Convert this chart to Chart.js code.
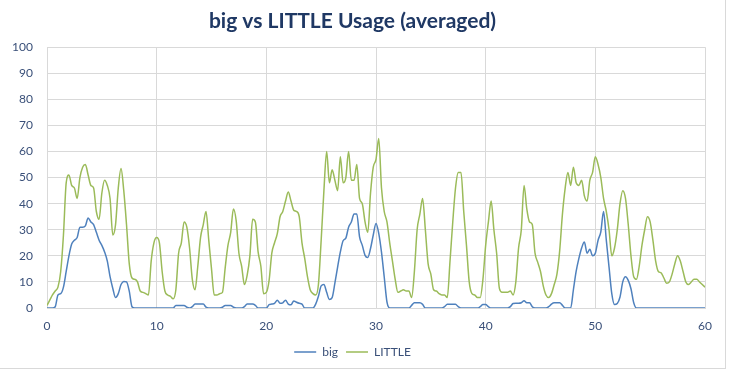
<!DOCTYPE html>
<html>
<head>
<meta charset="utf-8">
<title>big vs LITTLE Usage</title>
<script src="https://cdn.jsdelivr.net/npm/chart.js@4.4.1/dist/chart.umd.min.js"></script>
<style>
  html, body { margin: 0; padding: 0; background: #fff; }
  #wrap { position: relative; width: 735px; height: 376px; overflow: hidden; }
  #frame { position: absolute; left: -2px; top: -2px; width: 728px; height: 371px;
           border-right: 1px solid #d9d9d9; border-bottom: 1px solid #d9d9d9; box-sizing: border-box; }
  canvas { position: absolute; left: 0; top: 0; }
</style>
</head>
<body>
<div id="wrap">
  <div id="frame"></div>
  <canvas id="usage" width="735" height="376"></canvas>
</div>
<script>
// samples every 0.25 on the x axis, starting at 0
const sampleStep = 0.25;

const seriesNames = ['big', 'LITTLE'];

const bigUsage = [
  0, 0, 0, 0.5, 5, 5.5, 8, 14, 20, 24.5, 26, 27, 31, 31, 31.5, 34.5, 33, 32, 29, 26,
  24, 21.5, 18, 12, 7.5, 4, 5.5, 9, 10.2, 10, 6.5, 0.5, 0, 0, 0, 0, 0, 0, 0, 0,
  0, 0, 0, 0, 0, 0, 0, 1, 1, 1, 1, 0.3, 0, 0.5, 1.5, 1.5, 1.5, 1.5, 0.3, 0,
  0, 0, 0, 0, 0.3, 1, 1, 1, 0.3, 0, 0, 0, 0.5, 1.5, 1.5, 1.5, 1, 0, 0, 0,
  0, 1.3, 1.5, 1.8, 3, 1.8, 2, 3, 1.5, 1.2, 2.7, 2.2, 1.8, 1.5, 0, 0, 0, 0, 1.5, 4.5,
  8.5, 9, 6, 3.3, 4, 9.5, 15.7, 21.5, 25.8, 26.8, 31, 33, 36, 36, 27.3, 24, 20.2, 19.4, 22.8, 28,
  32.4, 28.6, 21.4, 11.9, 2.3, 0, 0, 0, 0, 0, 0, 0, 0, 1, 2, 2, 2, 1.4, 0, 0,
  0, 0, 0, 0, 0, 0.5, 1.4, 1.4, 1.4, 1.4, 0.5, 0, 0, 0, 0, 0, 0, 0, 0.5, 1.3,
  1.3, 0.5, 0, 0, 0, 0, 0, 0, 0, 0.5, 1.7, 1.8, 1.8, 2, 2.8, 2, 2, 0.5, 0, 0,
  0, 0, 0, 0.5, 1.5, 2, 2, 2, 1, 0, 0, 0, 7, 14, 19, 23, 25.3, 21, 22.5, 20,
  21, 26, 29.2, 37, 26, 15.7, 5.5, 1.3, 1.7, 4.2, 10, 12, 10.6, 7.4, 2, 0, 0, 0, 0, 0,
  0, 0, 0, 0, 0, 0, 0, 0, 0, 0, 0, 0, 0, 0, 0, 0, 0, 0, 0, 0,
  0
];

const littleUsage = [
  1, 3, 5, 6.5, 8, 14, 28, 48, 51, 47, 46, 42, 50, 54, 55, 51, 47, 46, 37, 34,
  44, 49, 47, 42, 28, 32, 46, 53.5, 45, 32, 17, 11.5, 11, 10, 6.5, 6, 5.5, 5, 18, 25,
  27, 25, 14, 6.5, 5, 4.5, 3.5, 7, 21, 25, 33, 31, 23, 11, 7, 16, 27, 32, 37, 26,
  15, 5, 5, 5.5, 6, 15.5, 24, 29, 38, 33.5, 21, 16, 9, 12.5, 20, 34, 33, 21.5, 16, 5.5,
  6, 10.5, 21, 25, 28.5, 35, 37, 41, 44.5, 41, 37.5, 37, 35, 25, 19, 12, 7, 5.5, 5, 9,
  26, 45, 60, 48, 53, 49, 45, 58, 48, 50, 60, 49, 49, 55, 42, 40, 33, 29, 44, 54,
  57, 65, 46, 37, 33, 25, 18, 11, 6, 6.5, 7, 6.5, 6.5, 4, 14, 30, 36, 42, 30, 17,
  13, 7, 6.5, 5.5, 5, 5, 4, 18, 33, 46, 52, 52, 37, 24, 10, 5.5, 5, 4, 4, 11,
  24, 33, 41, 30, 21, 7.5, 6, 6, 6, 6.5, 5, 10, 23, 30, 47, 38, 33, 32, 21, 17.5,
  14, 8.5, 5, 4, 5.5, 9, 13, 22, 36, 46, 52, 47, 54, 48, 47, 49, 43, 41, 49, 52,
  58, 55, 50, 42, 37, 30, 20, 23, 30, 40, 45, 42, 32, 20, 12, 11, 16, 24, 30, 35,
  33, 26, 18, 14, 13.5, 11.5, 9.5, 10, 13, 17, 20, 18, 14, 10, 9, 10, 11, 11, 10, 9,
  8
];

const xTickLabels = [0, 10, 20, 30, 40, 50, 60];
const yTickLabels = [0, 10, 20, 30, 40, 50, 60, 70, 80, 90, 100];

const toPoints = (vals) => vals.map((v, i) => ({ x: i * sampleStep, y: v }));

const textColor = '#3a5079';
const gridColor = '#d9d9d9';

new Chart(document.getElementById('usage'), {
  type: 'line',
  data: {
    datasets: [
      {
        label: seriesNames[0],
        data: toPoints(bigUsage),
        borderColor: '#4f81bd',
        borderWidth: 1.5,
        pointRadius: 0,
        cubicInterpolationMode: 'monotone'
      },
      {
        label: seriesNames[1],
        data: toPoints(littleUsage),
        borderColor: '#9bbb59',
        borderWidth: 1.5,
        pointRadius: 0,
        cubicInterpolationMode: 'monotone'
      }
    ]
  },
  options: {
    responsive: false,
    animation: false,
    devicePixelRatio: 1,
    layout: { padding: { left: 0, right: 30, top: 0, bottom: 8 } },
    plugins: {
      title: {
        display: true,
        text: 'big vs LITTLE Usage (averaged)',
        color: '#1f3864',
        font: { family: 'Lato', size: 21, weight: 'bold' },
        padding: { top: 9, bottom: 13 }
      },
      legend: {
        position: 'bottom',
        labels: {
          usePointStyle: true,
          pointStyle: 'line',
          pointStyleWidth: 22,
          color: textColor,
          font: { family: 'Lato', size: 12 },
          padding: 8
        }
      },
      tooltip: { enabled: false }
    },
    scales: {
      x: {
        type: 'linear',
        min: xTickLabels[0],
        max: xTickLabels[xTickLabels.length - 1],
        afterBuildTicks: (scale) => { scale.ticks = xTickLabels.map(v => ({ value: v })); },
        afterFit: (scale) => { scale.height = 30; },
        grid: { color: gridColor, drawTicks: false },
        border: { color: gridColor },
        ticks: { color: textColor, font: { family: 'Lato', size: 12 }, padding: 11 }
      },
      y: {
        min: yTickLabels[0],
        max: yTickLabels[yTickLabels.length - 1],
        afterBuildTicks: (scale) => { scale.ticks = yTickLabels.map(v => ({ value: v })); },
        afterFit: (scale) => { scale.width = 47; },
        grid: { color: gridColor, drawTicks: false },
        border: { color: gridColor },
        ticks: { color: textColor, font: { family: 'Lato', size: 12 }, padding: 14 }
      }
    }
  }
});
</script>
</body>
</html>
